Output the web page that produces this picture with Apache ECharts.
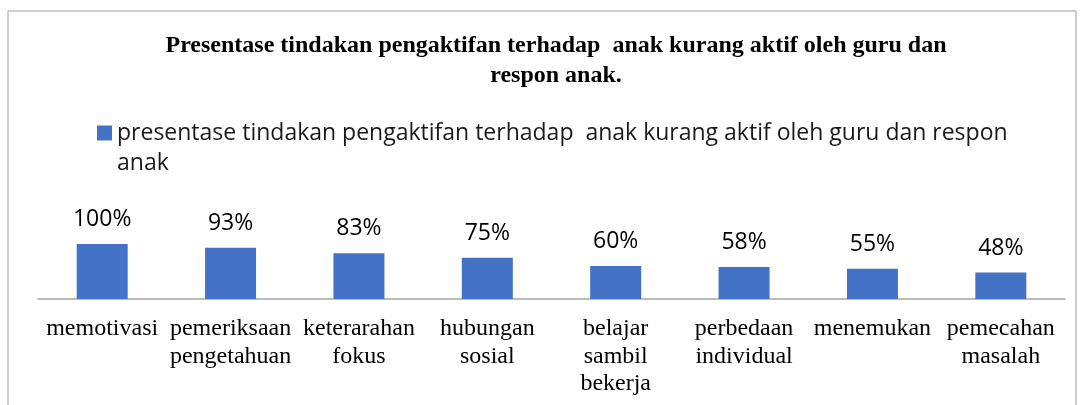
<!DOCTYPE html>
<html>
<head>
<meta charset="utf-8">
<script src="https://cdn.jsdelivr.net/npm/echarts@6/dist/echarts.min.js"></script>
<style>
  html, body { margin: 0; padding: 0; background: #fff; }
  #chart { width: 1081px; height: 405px; }
</style>
</head>
<body>
<div id="chart"></div>
<script>
// data
const categories = ['memotivasi', 'pemeriksaan pengetahuan', 'keterarahan fokus', 'hubungan sosial',
  'belajar sambil bekerja', 'perbedaan individual', 'menemukan', 'pemecahan masalah'];
const values = [100, 93, 83, 75, 60, 58, 55, 48];
const seriesName = 'presentase tindakan pengaktifan terhadap  anak kurang aktif oleh guru dan respon anak';
const titleText = 'Presentase tindakan pengaktifan terhadap  anak kurang aktif oleh guru dan\nrespon anak.';

const chart = echarts.init(document.getElementById('chart'));

chart.setOption({
  animation: false,
  title: {
    text: titleText,
    left: 551,
    textAlign: 'center',
    top: 26,
    textStyle: {
      fontFamily: 'Liberation Serif',
      fontWeight: 'bold',
      fontSize: 24,
      lineHeight: 30,
      color: '#000'
    }
  },
  legend: {
    left: 97,
    top: 88,
    padding: 0,
    icon: 'rect',
    itemWidth: 15,
    itemHeight: 15,
    itemGap: 6,
    data: [seriesName],
    // empty first line so the marker sits beside the first wrapped line
    formatter: name => '\n' + name,
    textStyle: {
      fontFamily: 'Open Sans',
      fontSize: 23,
      lineHeight: 30,
      color: '#1a1a1a',
      width: 910,
      overflow: 'break'
    }
  },
  grid: {
    left: 38,
    right: 16,
    top: 244,
    bottom: 106
  },
  xAxis: {
    type: 'category',
    data: categories,
    axisTick: { show: false },
    axisLine: { lineStyle: { color: '#a6a6a6', width: 1.5 } },
    axisLabel: {
      interval: 0,
      margin: 16,
      fontFamily: 'Liberation Serif',
      fontSize: 24,
      lineHeight: 27.5,
      color: '#000',
      formatter: v => v.split(' ').join('\n')
    }
  },
  yAxis: {
    type: 'value',
    min: 0,
    max: 100,
    show: false,
    splitLine: { show: false }
  },
  series: [{
    name: seriesName,
    type: 'bar',
    data: values,
    barWidth: 51,
    itemStyle: { color: '#4472C4' },
    label: {
      show: true,
      position: 'top',
      distance: 13,
      formatter: p => p.value + '%',
      fontFamily: 'Open Sans',
      fontSize: 23,
      color: '#000'
    }
  }],
  graphic: [{
    type: 'rect',
    shape: { x: 8, y: 11, width: 1068, height: 500 },
    style: { fill: 'none', stroke: '#a0a0a0', lineWidth: 1 },
    silent: true
  }]
});
</script>
</body>
</html>
